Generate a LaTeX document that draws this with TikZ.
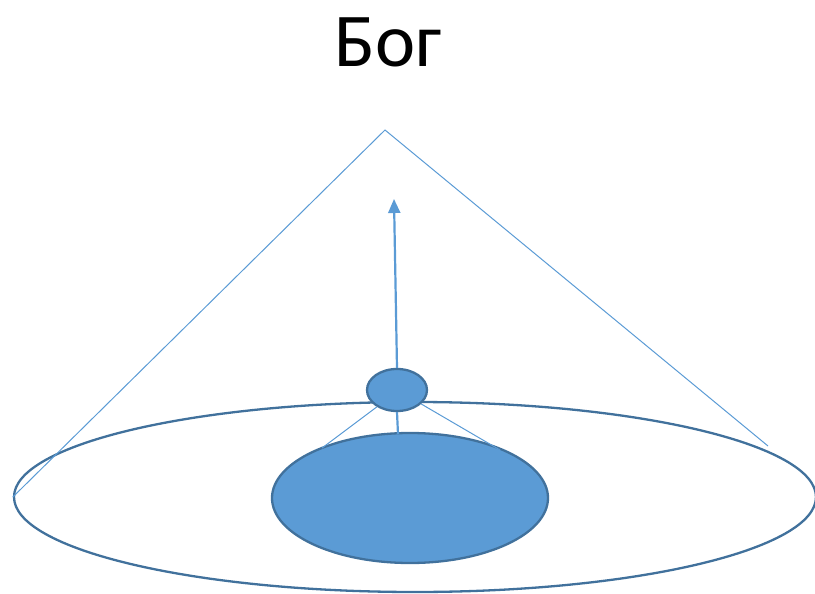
\documentclass[tikz,border=0pt]{standalone}
\usepackage{fontspec}
\setmainfont{Carlito}
\usetikzlibrary{shapes.geometric,arrows.meta}
\definecolor{thinblue}{HTML}{5B9BD5}
\definecolor{edgeblue}{HTML}{41719C}
\definecolor{fillblue}{HTML}{5B9BD5}
\tikzset{
  thinline/.style={draw=thinblue,line width=1pt},
  blob/.style={ellipse,draw=edgeblue,fill=fillblue,line width=2.3pt,inner sep=0pt},
  ring/.style={ellipse,draw=edgeblue,line width=2.3pt,inner sep=0pt},
}
\begin{document}
\begin{tikzpicture}[x=1pt,y=-1pt]
\useasboundingbox (0,0) rectangle (815,594);
\node[ring,minimum width=802pt,minimum height=190pt] (big) at (415,497) {};
\node[blob,minimum width=276pt,minimum height=130pt] (inner) at (410,498) {};
\node[blob,minimum width=60pt,minimum height=42pt] (small) at (397,390) {};
\node (title) at (388,42) {\fontsize{76}{80}\selectfont Бог};
\coordinate (apex) at (385,130);
\coordinate (rightend) at (768,446);
\coordinate (tip) at (394,199);
\coordinate (la) at (322,448);
\coordinate (ra) at (500,450);
\coordinate (stem) at (398,434);
\draw[thinline] (big.west) -- (apex) -- (rightend);
\draw[thinline] (small.-140) -- (la);
\draw[thinline] (small.-30) -- (ra);
\draw[draw=thinblue,line width=2.2pt] (small.south) -- (stem);
\draw[draw=thinblue,line width=2.2pt,-{Triangle[length=14pt,width=12pt]}] (small.north) -- (tip);
\end{tikzpicture}
\end{document}
